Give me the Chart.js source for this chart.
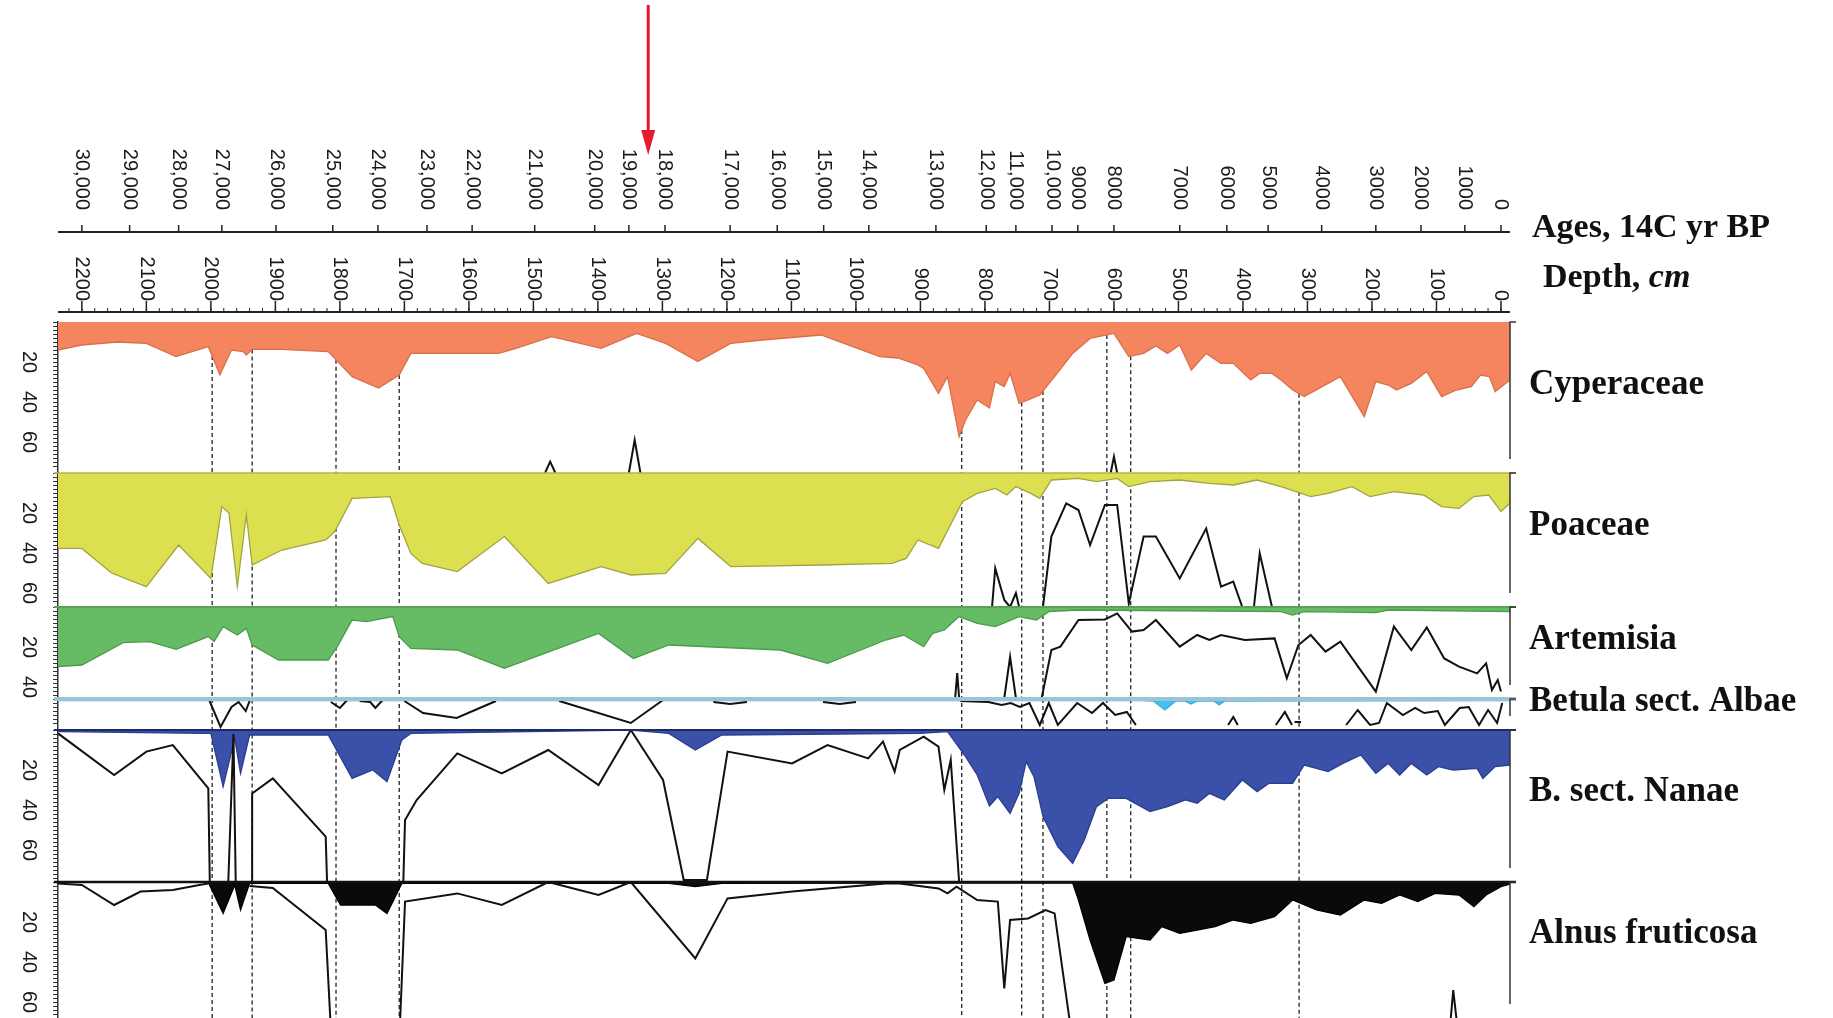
<!DOCTYPE html>
<html>
<head>
<meta charset="utf-8">
<script src="https://cdn.jsdelivr.net/npm/chart.js@4.4.1/dist/chart.umd.min.js"></script>
<style>
  html, body { margin: 0; padding: 0; background: #fff; }
  canvas { display: block; }
</style>
</head>
<body>
<canvas id="core" width="1833" height="1018"></canvas>
<script>
// ---- axis labels ----
const ageLabels = ['30,000', '29,000', '28,000', '27,000', '26,000', '25,000', '24,000', '23,000', '22,000', '21,000',
  '20,000', '19,000', '18,000', '17,000', '16,000', '15,000', '14,000', '13,000', '12,000', '11,000',
  '10,000', '9000', '8000', '7000', '6000', '5000', '4000', '3000', '2000', '1000', '0'];
// depth (cm) where each age tick sits
const ageAtDepth = [2200, 2126, 2050, 1983, 1899, 1811, 1741, 1665, 1595, 1498,
  1405, 1352, 1296, 1195, 1122, 1050, 980, 876, 798, 752,
  696, 656, 600, 498, 425, 361, 278, 194, 124, 56, 0];
const depthTicks = [2200, 2100, 2000, 1900, 1800, 1700, 1600, 1500, 1400, 1300, 1200, 1100,
  1000, 900, 800, 700, 600, 500, 400, 300, 200, 100, 0];
const taxa = ['Cyperaceae', 'Poaceae', 'Artemisia', 'Betula sect. Albae', 'B. sect. Nanae', 'Alnus fruticosa'];
const pctTicks = [20, 40, 60];
const zoneDepths = [1998, 1936, 1806, 1708, 836, 743, 710, 611, 574, 313];
const arrowDepth = 1322;

// ---- Cyperaceae ----
const cypDepth = [2237, 2200, 2145, 2100, 2054, 2004, 1986, 1968, 1950, 1945,
  1936, 1890, 1818, 1781, 1740, 1708, 1690, 1554, 1527, 1472,
  1395, 1340, 1295, 1245, 1194, 1145, 1054, 963, 935, 904,
  895, 872, 858, 840, 830, 812, 793, 784, 770, 761,
  747, 733, 715, 692, 664, 637, 600, 577, 554, 535,
  517, 498, 480, 457, 434, 415, 388, 374, 355, 341,
  323, 305, 268, 249, 212, 194, 175, 162, 139, 115,
  92, 69, 46, 32, 18, 9, -14];
const cypPct = [14, 11.5, 10, 10.7, 17.3, 12.3, 26.5, 14, 14.8, 16.5,
  13.7, 13.7, 14.8, 27.3, 33, 26.5, 15.7, 15.7, 13.2, 7.3,
  13.2, 5.7, 10.7, 19.8, 10.7, 9, 6.5, 17.3, 18, 21.5,
  23.2, 35.7, 27.3, 57.3, 49, 39, 43, 29.8, 32.3, 25.7,
  40.7, 39, 36.5, 27.3, 15.7, 8.2, 5.7, 17.3, 15.7, 12,
  15.7, 11.5, 24, 15.7, 20.7, 20.7, 29, 25.7, 25.7, 29,
  34, 37.3, 30.7, 27.3, 47.3, 29.8, 31.5, 34, 30.7, 24.8,
  37.3, 34, 32.3, 26.5, 27.3, 34.8, 29];
const cypLineDepth = [1482, 1474, 1466, 1466, 1352, 1343, 1334, 1334, 605, 600, 595];
const cypLine = [75.5, 69.8, 75.5, null, 75.5, 59, 75.5, null, 75.5, 67.3, 75.5];

// ---- Poaceae ----
const poaDepth = [2237, 2200, 2154, 2100, 2050, 2000, 1983, 1972, 1959, 1945,
  1936, 1890, 1822, 1808, 1781, 1722, 1708, 1690, 1672, 1618,
  1545, 1477, 1395, 1349, 1295, 1245, 1194, 1054, 944, 922,
  904, 872, 835, 812, 784, 766, 752, 729, 715, 697,
  655, 627, 595, 577, 544, 498, 452, 415, 378, 341,
  295, 268, 231, 203, 166, 120, 92, 65, 42, 19,
  0, -14];
const poaPct = [37.7, 37.7, 50, 56.8, 36, 52.7, 16.8, 20, 56.8, 21,
  46, 38.5, 33.5, 29.3, 12.7, 11.8, 26, 40.2, 45.2, 49.3,
  31.8, 55.2, 46.8, 51, 50.2, 32.7, 46.8, 46, 45.2, 42.7,
  33.5, 37.7, 14.3, 10.2, 7.7, 11, 6.8, 10.2, 12.7, 3.5,
  2.7, 4.3, 2.7, 6.8, 4.3, 3.5, 5.2, 6, 3.5, 6.8,
  11.8, 10.2, 6.8, 11.8, 9.3, 11, 16.8, 17.7, 11.8, 11,
  19.3, 15];
const poaLineDepth = [789, 784, 770, 761, 752, 747, 747, 710, 697, 674, 655, 637, 614, 595, 577, 554, 535, 498, 457, 434, 415, 401, 401, 383, 374, 355];
const poaLine = [67, 47.7, 63.5, 67, 60, 67, null, 67, 31.8, 15.2, 18.5, 36, 16, 16, 65.2, 31.8, 31.8, 52.7, 27.7, 56.8, 54.3, 67, null, 67, 40.2, 67];

// ---- Artemisia ----
const artDepth = [2237, 2200, 2136, 2095, 2054, 2004, 1995, 1981, 1959, 1945,
  1936, 1895, 1818, 1804, 1781, 1759, 1718, 1708, 1690, 1618,
  1545, 1399, 1345, 1290, 1117, 1044, 954, 926, 895, 881,
  863, 840, 812, 784, 747, 720, 701, 655, 341, 323,
  305, 194, 175, -14];
const artPct = [29.8, 29, 17.8, 17.3, 21.2, 14.8, 17.3, 9.8, 14, 10.7,
  19, 26.5, 26.5, 19.8, 6.5, 7.3, 4.8, 14.8, 20.7, 21.5,
  30.7, 13.2, 25.7, 19, 21.5, 28.2, 16.5, 14, 19.8, 13.2,
  11.5, 4.8, 8.2, 9.8, 4.8, 6.5, 2.3, 1.5, 2.3, 4,
  2.3, 2.8, 1.5, 2.3];
const artLineDepth = [846, 843, 840, 840, 770, 761, 752, 752,
  712, 697, 683, 655, 614, 595, 572, 554, 535, 498,
  471, 452, 434, 397, 351, 332, 314, 295, 272, 249,
  194, 166, 139, 115, 88, 65, 37, 23, 14, 5, 0];
const artLine = [45, 33, 45.5, null, 45.5, 25, 45.5, null,
  45.5, 21.5, 19.8, 6.5, 6.2, 3.2, 12.3, 11.5, 6.5, 19.8,
  14, 16.5, 14, 16.5, 15.7, 35.7, 19, 14, 22.3, 17.3,
  42.3, 9.8, 21.5, 10.2, 25.7, 29.8, 33.2, 28.2, 41.5, 36.5, 42.3];

// ---- Betula sect. Albae ----
const betDepth = [2237, 560, 539, 521, 504, 490, 481, 470, 445, 437, 428, -14];
const betPct = [0.8, 0.8, 1, 5.5, 1, 1, 2.5, 1, 1, 3, 1, 0.8];
const betLineDepth = [2002, 1985, 1968, 1957, 1946, 1940, 1940,
  1814, 1800, 1790, 1779, 1768, 1753, 1745, 1735, 1722, 1713, 1713,
  1700, 1671, 1619, 1558, 1558,
  1460, 1349, 1299, 1299,
  1221, 1195, 1169, 1169,
  1051, 1025, 1000, 1000,
  838, 795, 774, 760, 746, 731, 715, 701, 687, 657, 634, 617, 598, 580, 566, 566,
  423, 415, 408, 408,
  349, 335, 324, 324,
  320, 310, 310,
  240, 222, 203, 189, 177, 152, 133, 119, 98, 87, 64, 50, 34, 20, 6, -2];
const betLine = [1, 14, 4, 1.5, 6, 1, null,
  1.5, 4.5, 1, -12, 1, 1.5, 4.5, 1, -11, 1, null,
  1, 7, 9.5, 1, null,
  1, 12, 0.5, null,
  1.5, 2.5, 1.5, null,
  1.5, 2.5, 1.5, null,
  1, 1.5, 3, 2, 4, 2, 13, 2, 13, 2, 7, 2, 8, 6.5, 13, null,
  13, 9, 13, null,
  13, 6.5, 13, null,
  11.5, 11.5, null,
  13, 5.5, 13, 12, 2, 8, 4.5, 7, 6, 13, 4.5, 4, 13, 5.5, 12, 2];

// ---- Betula sect. Nanae ----
const nanDepth = [2237, 2009, 2000, 1981, 1963, 1954, 1940, 1818, 1781, 1749,
  1727, 1704, 1690, 1349, 1290, 1249, 1208, 901, 858, 830,
  812, 793, 780, 761, 747, 736, 724, 710, 687, 664,
  646, 627, 609, 581, 544, 517, 489, 471, 452, 429,
  401, 378, 360, 323, 305, 268, 245, 217, 194, 175,
  157, 139, 115, 97, 74, 37, 28, 9, -14];
const nanPct = [0.8, 1.7, 1.7, 28.3, 4.2, 21.7, 2.5, 2.5, 24.2, 20,
  25.8, 5, 1.7, 0, 1.7, 10, 2.5, 1.7, 0.8, 13.3,
  22.5, 38, 33.3, 41.7, 31.7, 15.8, 23.3, 43.3, 58.3, 66.7,
  55, 38.3, 34.2, 34.2, 40.8, 38.3, 35, 36.7, 31.7, 35,
  25, 30.8, 26.7, 26.7, 17.5, 20.8, 16.7, 12.5, 21.7, 16.7,
  22.5, 16.7, 22.5, 18.3, 20, 19.2, 24.2, 18.3, 17.5];
const nanLineDepth = [2237, 2150, 2100, 2059, 2004, 1998, 1981, 1965, 1958, 1936,
  1936, 1904, 1822, 1813, 1708, 1699, 1681, 1618, 1549, 1477,
  1399, 1349, 1299, 1267, 1231, 1199, 1099, 1044, 981, 958,
  940, 932, 895, 872, 863, 853, 840];
const nanLine = [1.7, 22.5, 10.8, 7.5, 29.2, 150, 150, 2, 150, 150,
  31.7, 24.2, 53.3, 150, 150, 45, 35, 11.7, 21.7, 10,
  27.5, 0, 25, 75, 75, 10.8, 16.7, 7.5, 14.2, 5.8,
  20.8, 10, 3.3, 8.3, 30, 15, 76];

// ---- Alnus fruticosa ----
const alnDepth = [2237, 2004, 1981, 1963, 1954, 1940, 1818, 1799, 1745, 1727,
  1704, 1290, 1249, 1208, 932, 664, 655, 637, 614, 600,
  581, 544, 526, 498, 471, 443, 415, 388, 351, 323,
  286, 249, 212, 185, 157, 129, 102, 65, 42, 23,
  0, -14];
const alnPct = [0.2, 0.2, 15.7, 1.5, 14, 0.7, 0.7, 11.5, 11.5, 15.7,
  0.7, 0.7, 2.3, 0.7, 0.5, 0.5, 9, 29, 50.7, 49,
  27.3, 29, 22.3, 25.7, 24, 22.3, 19, 20.7, 17.3, 9,
  14, 16.5, 9, 10.7, 6.5, 9.8, 5.7, 6.5, 12.3, 6.5,
  2.3, 1];
const alnLineDepth = [2237, 2200, 2150, 2109, 2059, 2018, 2004, 2004,
  1940, 1904, 1822, 1813, 1813,
  1708, 1699, 1618, 1549, 1477, 1399, 1349, 1249, 1199, 1099, 954, 932,
  872, 858, 844, 812, 780, 770, 761, 733, 706, 692, 664, 664,
  81, 74, 65];
const alnLine = [0.7, 1.5, 11.5, 4.8, 4, 1.5, 0.7, null,
  2, 3, 24, 80, null,
  80, 9.8, 5.7, 11.5, 0, 6.5, 0, 38.2, 8.2, 4.8, 0.7, 0.8,
  3.2, 5.7, 2.3, 9, 9.8, 53.2, 19, 18.2, 14, 15.7, 80, null,
  80, 54, 80];

// panel scales: id, max %, weight (top first)
const panelIds = ['yCyp', 'yPoa', 'yArt', 'yBet', 'yNan', 'yAln'];
const panelMax = [75.5, 67, 46, 15.5, 76, 68];
const topLineColor = [null, '#b3b44a', '#5c9f5a', '#9cc4d5', '#1c2a66', '#111'];
const topLineWidth = [0, 1.5, 2, 4, 2, 2.5];
const labelDrop = [72, 62, 42, 12, 71, 61];

const pts = (xs, ys) => xs.map((x, i) => ({ x: x, y: ys[i] }));

function area(label, xs, ys, axis, fill, edge) {
  return {
    label: label, data: pts(xs, ys), yAxisID: axis,
    backgroundColor: fill, borderColor: edge, borderWidth: 1.3,
    fill: { value: 0 }, pointRadius: 0, tension: 0, order: 2
  };
}
function curve(label, xs, ys, axis) {
  return {
    label: label, data: pts(xs, ys), yAxisID: axis,
    borderColor: '#111', borderWidth: 2, fill: false,
    pointRadius: 0, tension: 0, spanGaps: false, order: 1
  };
}

function panelAxis(i) {
  return {
    type: 'linear', position: 'left', reverse: true,
    min: 0, max: panelMax[i],
    stack: 'core', stackWeight: panelMax[i], weight: 10 - i,
    grid: { display: true, drawOnChartArea: false, drawTicks: true, tickLength: 5, color: '#333', lineWidth: 1 },
    border: { display: true, color: '#333', width: 1.5 },
    ticks: { display: false, stepSize: 2 },
    afterFit: (s) => { s.width = 6; }
  };
}

function interp(xs, ys, d) {
  for (let i = 0; i < xs.length - 1; i++) {
    if (d <= xs[i] && d >= xs[i + 1]) {
      const t = (xs[i] - d) / (xs[i] - xs[i + 1] || 1);
      return ys[i] + t * (ys[i + 1] - ys[i]);
    }
  }
  return 0;
}

function rotText(ctx, text, x, y, align) {
  ctx.save();
  ctx.translate(x, y);
  ctx.rotate(Math.PI / 2);
  ctx.textAlign = align;
  ctx.textBaseline = 'middle';
  ctx.fillText(text, 0, 0);
  ctx.restore();
}

const decor = {
  id: 'decor',
  beforeDatasetsDraw(chart) {
    const { ctx, chartArea, scales } = chart;
    const x = scales.x, yc = scales.yCyp;
    ctx.save();
    ctx.strokeStyle = '#222';
    ctx.lineWidth = 1.3;
    ctx.setLineDash([4, 3]);
    zoneDepths.forEach((d) => {
      const px = x.getPixelForValue(d);
      const top = yc.getPixelForValue(interp(cypDepth, cypPct, d));
      ctx.beginPath();
      ctx.moveTo(px, top);
      ctx.lineTo(px, chartArea.bottom);
      ctx.stroke();
    });
    ctx.restore();
  },
  afterDatasetsDraw(chart) {
    const { ctx, chartArea, scales } = chart;
    const x = scales.x;
    ctx.save();
    // panel top lines and right borders
    panelIds.forEach((id, i) => {
      const s = scales[id];
      if (topLineColor[i]) {
        ctx.strokeStyle = topLineColor[i];
        ctx.lineWidth = topLineWidth[i];
        ctx.beginPath();
        ctx.moveTo(chartArea.left - 4, s.top);
        ctx.lineTo(chartArea.right + 6, s.top);
        ctx.stroke();
      }
      ctx.strokeStyle = '#333';
      ctx.lineWidth = 1.5;
      ctx.beginPath();
      ctx.moveTo(chartArea.right + 6, s.top);
      ctx.lineTo(chartArea.right, s.top);
      ctx.lineTo(chartArea.right, Math.max(s.top + 4, s.bottom - 14));
      ctx.stroke();
    });

    // top axes
    const ageY = chartArea.top - 90;
    const depthY = chartArea.top - 10;
    ctx.strokeStyle = '#222';
    ctx.lineWidth = 2;
    [ageY, depthY].forEach((yy) => {
      ctx.beginPath();
      ctx.moveTo(chartArea.left, yy);
      ctx.lineTo(chartArea.right, yy);
      ctx.stroke();
    });
    ctx.lineWidth = 1;
    for (let d = 2220; d >= 0; d -= 20) {
      const px = x.getPixelForValue(d);
      ctx.beginPath();
      ctx.moveTo(px, depthY);
      ctx.lineTo(px, depthY - 4);
      ctx.stroke();
    }
    ctx.lineWidth = 1.5;
    ctx.fillStyle = '#1a1a1a';
    ctx.font = '20px "Liberation Sans", Arial, sans-serif';
    ageAtDepth.forEach((d, i) => {
      const px = x.getPixelForValue(d);
      ctx.beginPath();
      ctx.moveTo(px, ageY);
      ctx.lineTo(px, ageY - 7);
      ctx.stroke();
      rotText(ctx, ageLabels[i], px, ageY - 22, 'right');
    });
    depthTicks.forEach((d) => {
      const px = x.getPixelForValue(d);
      ctx.beginPath();
      ctx.moveTo(px, depthY);
      ctx.lineTo(px, depthY - 11);
      ctx.stroke();
      rotText(ctx, String(d), px, depthY - 11, 'right');
    });

    // left percent labels
    panelIds.forEach((id, i) => {
      const s = scales[id];
      pctTicks.forEach((v) => {
        if (v < panelMax[i] - 4) rotText(ctx, String(v), chartArea.left - 29, s.getPixelForValue(v), 'center');
      });
    });

    // right-hand titles
    const tx = chartArea.right + 19;
    const serif = '"Liberation Serif", "Times New Roman", serif';
    ctx.fillStyle = '#111';
    ctx.textAlign = 'left';
    ctx.textBaseline = 'alphabetic';
    ctx.font = 'bold 34px ' + serif;
    ctx.fillText('Ages, 14C yr BP', tx + 3, ageY + 5);
    ctx.fillText('Depth, ', tx + 14, depthY - 25);
    const w = ctx.measureText('Depth, ').width;
    ctx.font = 'italic bold 34px ' + serif;
    ctx.fillText('cm', tx + 14 + w, depthY - 25);
    ctx.font = 'bold 35px ' + serif;
    panelIds.forEach((id, i) => {
      ctx.fillText(taxa[i], tx, scales[id].top + labelDrop[i]);
    });

    // red marker arrow
    const ax = x.getPixelForValue(arrowDepth);
    ctx.strokeStyle = '#e8192c';
    ctx.fillStyle = '#e8192c';
    ctx.lineWidth = 3;
    ctx.beginPath();
    ctx.moveTo(ax, 5);
    ctx.lineTo(ax, 136);
    ctx.stroke();
    ctx.beginPath();
    ctx.moveTo(ax - 7, 130);
    ctx.lineTo(ax + 7, 130);
    ctx.lineTo(ax, 155);
    ctx.closePath();
    ctx.fill();
    ctx.restore();
  }
};

const scales = {
  x: { type: 'linear', reverse: true, min: -14, max: 2237, display: false }
};
panelIds.forEach((id, i) => { scales[id] = panelAxis(i); });

new Chart(document.getElementById('core'), {
  type: 'line',
  data: {
    datasets: [
      area('Cyperaceae', cypDepth, cypPct, 'yCyp', '#f4855e', '#d9704a'),
      area('Poaceae', poaDepth, poaPct, 'yPoa', '#dcdf4f', '#a3a440'),
      area('Artemisia', artDepth, artPct, 'yArt', '#66bc64', '#4c9a4c'),
      area('Betula sect. Albae', betDepth, betPct, 'yBet', '#3fc2ec', '#3fb0d8'),
      area('B. sect. Nanae', nanDepth, nanPct, 'yNan', '#3b50a8', '#2a3d90'),
      area('Alnus fruticosa', alnDepth, alnPct, 'yAln', '#0a0a0a', '#000'),
      curve('Cyperaceae line', cypLineDepth, cypLine, 'yCyp'),
      curve('Poaceae line', poaLineDepth, poaLine, 'yPoa'),
      curve('Artemisia line', artLineDepth, artLine, 'yArt'),
      curve('Betula line', betLineDepth, betLine, 'yBet'),
      curve('Nanae line', nanLineDepth, nanLine, 'yNan'),
      curve('Alnus line', alnLineDepth, alnLine, 'yAln')
    ]
  },
  options: {
    responsive: false,
    animation: false,
    devicePixelRatio: 1,
    layout: { padding: { top: 322, left: 52, right: 323, bottom: 0 } },
    plugins: { legend: { display: false }, tooltip: { enabled: false } },
    scales: scales
  },
  plugins: [decor]
});
</script>
</body>
</html>
